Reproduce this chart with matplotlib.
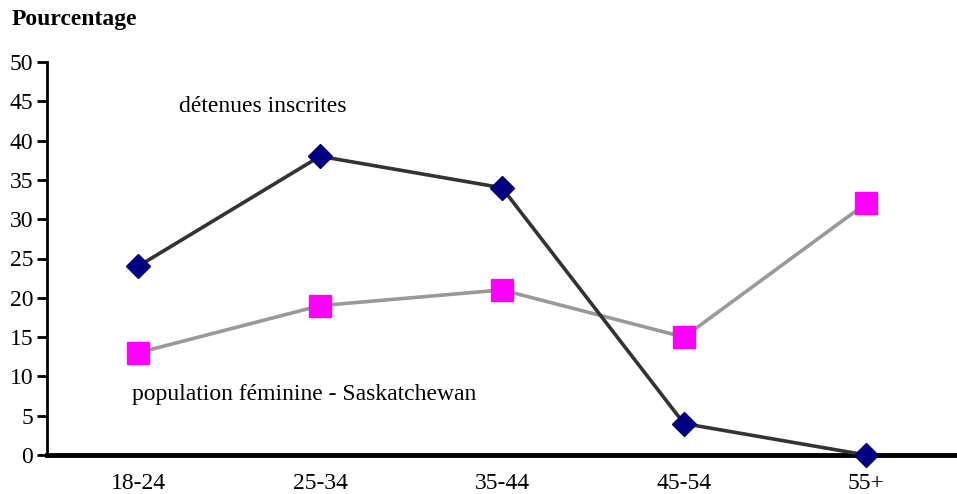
import matplotlib
matplotlib.use("Agg")
import matplotlib.pyplot as plt

# Age groups and percentages
age_groups = ["18-24", "25-34", "35-44", "45-54", "55+"]
detenues = [24, 38, 34, 4, 0]
population = [13, 19, 21, 15, 32]

plt.rcParams['font.family'] = ['Liberation Serif', 'DejaVu Serif']

fig = plt.figure(figsize=(9.57, 4.94), dpi=100)
ax = fig.add_axes([47 / 957, 39 / 494, 910 / 957, 393 / 494])

x = list(range(len(age_groups)))
ax.plot(x, population, color='#999999', lw=2.6, marker='s', markersize=16,
        markerfacecolor='#ff00ff', markeredgecolor='#ff00ff', zorder=3, clip_on=False)
ax.plot(x, detenues, color='#333333', lw=2.6, marker='D', markersize=12,
        markerfacecolor='#000080', markeredgecolor='#000080', zorder=4, clip_on=False)

ax.set_xlim(-0.5, len(age_groups) - 0.5)
ax.set_ylim(0, 50)
ax.set_yticks(range(0, 51, 5))
ax.set_xticks(x)
ax.set_xticklabels(age_groups)

for side in ('top', 'right'):
    ax.spines[side].set_visible(False)
ax.spines['left'].set_linewidth(2)
ax.spines['bottom'].set_linewidth(3.5)
ax.tick_params(axis='y', direction='out', length=7, width=2, labelsize=17, pad=3)
ax.tick_params(axis='x', length=0, labelsize=17, pad=13)

ax.text(0.237, 0.888, "détenues inscrites", transform=ax.transAxes,
        fontsize=17, ha='center', va='center')
ax.text(0.283, 0.153, "population féminine - Saskatchewan", transform=ax.transAxes,
        fontsize=17, ha='center', va='center')

fig.text(12 / 957, 1 - 20 / 494, "Pourcentage", fontsize=17, fontweight='bold',
         ha='left', va='center')

fig.savefig("out.png", dpi=100)
